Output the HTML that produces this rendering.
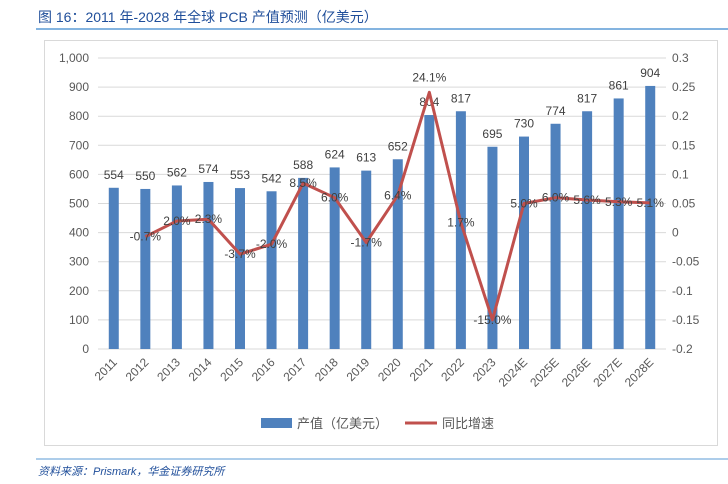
<!DOCTYPE html>
<html><head><meta charset="utf-8"><style>
body{margin:0;width:728px;height:484px;background:#fff;font-family:"Liberation Sans","Noto Sans CJK SC",sans-serif;overflow:hidden}
</style></head><body>
<svg width="728" height="484" id="s" style="position:absolute;left:0;top:0">
<text x="38" y="22" font-size="14" fill="#1f4e9a">图 16：2011 年-2028 年全球 PCB 产值预测（亿美元）</text>
<line x1="36" y1="29" x2="728" y2="29" stroke="#5b9bd5" stroke-width="1.5"/>
<rect x="44.5" y="40.5" width="673" height="405" fill="#fff" stroke="#d9d9d9"/>
<line x1="36" y1="459" x2="728" y2="459" stroke="#5b9bd5" stroke-width="1"/>
<text x="38" y="475" font-size="11" font-style="italic" fill="#1f4e9a">资料来源：Prismark，华金证券研究所</text>
<g id="g"></g>
<rect x="261" y="418" width="31" height="10" fill="#4f81bd"/>
<text x="297" y="428" font-size="13" fill="#595959">产值（亿美元）</text>
<line x1="405" y1="423" x2="437" y2="423" stroke="#c0504d" stroke-width="3"/>
<text x="442" y="428" font-size="13" fill="#595959">同比增速</text>
</svg>
<script>
const categories=["2011","2012","2013","2014","2015","2016","2017","2018","2019","2020","2021","2022","2023","2024E","2025E","2026E","2027E","2028E"];
const values=[554,550,562,574,553,542,588,624,613,652,804,817,695,730,774,817,861,904];
const growth=[null,-0.7,2.0,2.3,-3.7,-2.0,8.5,6.0,-1.7,6.4,24.1,1.7,-15.0,5.0,6.0,5.6,5.3,5.1];
const leftTicks=[0,100,200,300,400,500,600,700,800,900,1000];
const rightTicks=[-0.2,-0.15,-0.1,-0.05,0,0.05,0.1,0.15,0.2,0.25,0.3];
const NS="http://www.w3.org/2000/svg",g=document.getElementById('g');
const y0=349,y1=58,xL=98,xR=666;
const yL=v=>y0-(v/1000)*(y0-y1);
const yR=v=>y0-((v+0.2)/0.5)*(y0-y1);
const step=(xR-xL)/categories.length;
const xC=i=>xL+step*(i+0.5);
function mk(t,a,txt){const e=document.createElementNS(NS,t);for(const k in a)e.setAttribute(k,a[k]);if(txt!=null)e.textContent=txt;g.appendChild(e);return e;}
leftTicks.forEach(v=>{
 const l=mk('line',{x1:xL,x2:xR,y1:yL(v),y2:yL(v),stroke:'#d9d9d9'});
 
 
 const t=mk('text',{x:89,y:yL(v)+4,'font-size':12,fill:'#595959','text-anchor':'end'},v.toLocaleString('en-US'));
 
 
});
rightTicks.forEach(v=>{
 const t=mk('text',{x:672,y:yR(v)+4,'font-size':12,fill:'#595959'},String(v));
 
 
});
values.forEach((v,i)=>{
 const r=mk('rect',{x:xC(i)-5,y:yL(v),width:10,height:y0-yL(v),fill:'#4f81bd'});
 
 
 const t=mk('text',{x:xC(i),y:yL(v)-9,'font-size':12,fill:'#404040','text-anchor':'middle'},v);
 
 
 const c=mk('text',{x:0,y:0,'font-size':12,fill:'#595959','text-anchor':'end',transform:`translate(${xC(i)+4},${y0+14}) rotate(-45)`},categories[i]);
 
 
});
let d='';growth.forEach((v,i)=>{if(v==null)return;d+=(d?'L':'M')+xC(i)+','+yR(v/100);});
const p=mk('path',{d:d,fill:'none',stroke:'#c0504d','stroke-width':3,'stroke-linejoin':'round'});


growth.forEach((v,i)=>{if(v==null)return;
 const t=mk('text',{x:xC(i),y:yR(v/100)+(i==10?-11:4),'font-size':12,fill:'#404040','text-anchor':'middle'},v.toFixed(1)+'%');
 
 
});
</script>
</body></html>
